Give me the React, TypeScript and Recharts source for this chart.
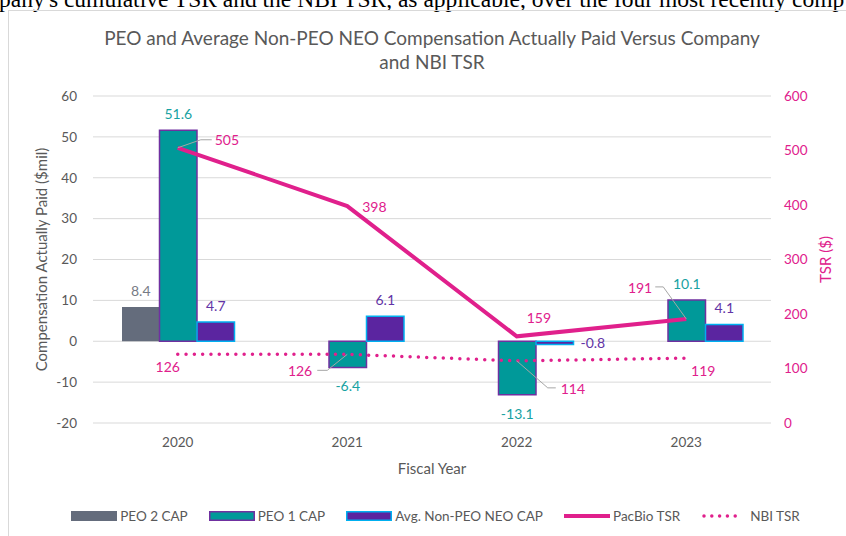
import React from 'react';
import { ComposedChart, Bar, Line, XAxis, YAxis, CartesianGrid, LabelList } from 'recharts';

const years = ['2020', '2021', '2022', '2023'];
const peo2Cap: (number | null)[] = [8.4, null, null, null];
const peo1Cap = [51.6, -6.4, -13.1, 10.1];
const avgNonPeoCap = [4.7, 6.1, -0.8, 4.1];
const pacBioTsr = [505, 398, 159, 191];
const nbiTsr = [126, 126, 114, 119];
const leftTicks = [-20, -10, 0, 10, 20, 30, 40, 50, 60];
const rightTicks = [0, 100, 200, 300, 400, 500, 600];

const data = years.map((year, i) => ({
  year,
  peo2: peo2Cap[i],
  peo1: peo1Cap[i],
  avg: avgNonPeoCap[i],
  pacbio: pacBioTsr[i],
  nbi: nbiTsr[i],
}));

const FONT = 'Lato, "Open Sans", sans-serif';
const AXIS = '#595959';
const GRAY = '#646C7C';
const TEAL = '#009999';
const PURPLE = '#5B25A0';
const PURPLE_EDGE = '#7030A0';
const BLUE_EDGE = '#00B0F0';
const PINK = '#E0208C';
const LEADER = '#A6A6A6';

const getBox = (p: any) => {
  const vb = p.viewBox || {};
  return {
    x: p.x ?? vb.x,
    y: p.y ?? vb.y,
    w: p.width ?? vb.width ?? 0,
    h: p.height ?? vb.height ?? 0,
  };
};

const makeBarLabel = (color: string) => (p: any) => {
  const v = p.value;
  if (v === null || v === undefined || v === '') return null;
  const { x, y, w, h } = getBox(p);
  const top = Math.min(y, y + h);
  const bottom = Math.max(y, y + h);
  let tx = x + w / 2;
  let ty: number;
  let anchor = 'middle';
  if (v >= 0) ty = top - 11;
  else if (Math.abs(v) < 2) {
    tx = x + w + 7;
    anchor = 'start';
    ty = (top + bottom) / 2 + 5;
  } else ty = bottom + 24;
  return (
    <text x={tx} y={ty} textAnchor={anchor} fill={color} fontSize={14} fontFamily={FONT}>
      {Number(v).toFixed(1)}
    </text>
  );
};

type Spec = { dx: number; dy: number; anchor: string; leader?: number[][] };
const pacSpecs: Spec[] = [
  { dx: 37, dy: -8, anchor: 'start', leader: [[0, 0], [23, -8], [34, -8]] },
  { dx: 15, dy: 1, anchor: 'start' },
  { dx: 10, dy: -18, anchor: 'start' },
  { dx: -34, dy: -31, anchor: 'end', leader: [[0, 0], [-23, -32], [-31, -32]] },
];
const nbiSpecs: Spec[] = [
  { dx: -10, dy: 13, anchor: 'middle' },
  { dx: -35, dy: 17, anchor: 'end', leader: [[0, 0], [-20, 16], [-30, 16]] },
  { dx: 44, dy: 28, anchor: 'start', leader: [[0, 0], [31, 27], [39, 27]] },
  { dx: 17, dy: 13, anchor: 'middle' },
];

const makeLineLabel = (specs: Spec[]) => (p: any) => {
  const { x, y } = getBox(p);
  const s = specs[p.index];
  if (!s || x == null || y == null) return null;
  return (
    <g>
      {s.leader && (
        <polyline
          points={s.leader.map(([a, b]) => `${x + a},${y + b}`).join(' ')}
          fill="none"
          stroke={LEADER}
          strokeWidth={1}
        />
      )}
      <text x={x + s.dx} y={y + s.dy + 5} textAnchor={s.anchor} fill={PINK} fontSize={14} fontFamily={FONT}>
        {p.value}
      </text>
    </g>
  );
};

const legendItems = [
  { name: 'PEO 2 CAP', kind: 'bar', fill: GRAY, edge: GRAY },
  { name: 'PEO 1 CAP', kind: 'bar', fill: TEAL, edge: PURPLE_EDGE },
  { name: 'Avg. Non-PEO NEO CAP', kind: 'bar', fill: PURPLE, edge: BLUE_EDGE },
  { name: 'PacBio TSR', kind: 'line' },
  { name: 'NBI TSR', kind: 'dots' },
];

function LegendRow() {
  return (
    <div
      style={{
        position: 'absolute',
        left: 0,
        top: 506,
        width: 871,
        display: 'flex',
        justifyContent: 'center',
        alignItems: 'center',
        gap: 21,
        fontFamily: FONT,
        fontSize: 13.5,
        color: AXIS,
        whiteSpace: 'nowrap',
      }}
    >
      {legendItems.map((it) => (
        <div key={it.name} style={{ display: 'flex', alignItems: 'center' }}>
          <svg width={46} height={20} style={{ marginRight: 3 }}>
            {it.kind === 'bar' && (
              <rect x={0.75} y={5.75} width={44.5} height={8.5} fill={it.fill} stroke={it.edge} strokeWidth={1.5} />
            )}
            {it.kind === 'line' && <line x1={0} y1={10} x2={46} y2={10} stroke={PINK} strokeWidth={4} />}
            {it.kind === 'dots' && (
              <line x1={3} y1={10} x2={42} y2={10} stroke={PINK} strokeWidth={3.5} strokeDasharray="0 7.8" strokeLinecap="round" />
            )}
          </svg>
          <span>{it.name}</span>
        </div>
      ))}
    </div>
  );
}

export default function App() {
  return (
    <div style={{ position: 'fixed', left: 0, top: 0, width: 846, height: 536, overflow: 'hidden', background: '#fff' }}>
      <svg style={{ position: 'absolute', left: 0, top: 0 }} width={846} height={20}>
        <text x={-1} y={7} fontFamily="'Liberation Serif', 'Times New Roman', serif" fontSize={23.5} fill="#000">
          pany's cumulative TSR and the NBI TSR, as applicable, over the four most recently comp
        </text>
      </svg>
      <div style={{ position: 'absolute', left: 8, top: 10, width: 1000, height: 1000, border: '1px solid #d9d9d9' }} />
      <div
        style={{
          position: 'absolute',
          left: 32,
          top: 26,
          width: 800,
          textAlign: 'center',
          fontFamily: FONT,
          fontSize: 19,
          lineHeight: '24px',
          color: AXIS,
          whiteSpace: 'nowrap',
        }}
      >
        PEO and Average Non-PEO NEO Compensation Actually Paid Versus Company
        <br />
        and NBI TSR
      </div>
      <div style={{ position: 'absolute', left: 0, top: 0 }}>
        <ComposedChart
          width={846}
          height={536}
          data={data}
          margin={{ top: 96, right: 0, bottom: 0, left: 0 }}
          barGap={0}
          barSize={37.5}
        >
          <CartesianGrid vertical={false} stroke="#d9d9d9" yAxisId="left" />
          <XAxis
            dataKey="year"
            height={113}
            axisLine={false}
            tickLine={false}
            tickMargin={8}
            interval={0}
            tick={{ fill: AXIS, fontSize: 13.5, fontFamily: FONT }}
            label={{ value: 'Fiscal Year', position: 'insideTop', offset: 40, fill: AXIS, fontSize: 15, fontFamily: FONT }}
          />
          <YAxis
            yAxisId="left"
            domain={[-20, 60]}
            ticks={leftTicks}
            width={93}
            axisLine={false}
            tickLine={false}
            tickMargin={10}
            tick={{ fill: AXIS, fontSize: 13.5, fontFamily: FONT }}
            label={{
              value: 'Compensation Actually Paid ($mil)',
              angle: -90,
              position: 'insideLeft',
              offset: 42,
              fill: AXIS,
              fontSize: 15,
              fontFamily: FONT,
              style: { textAnchor: 'middle' },
            }}
          />
          <YAxis
            yAxisId="right"
            orientation="right"
            domain={[0, 600]}
            ticks={rightTicks}
            width={75}
            axisLine={false}
            tickLine={false}
            tickMargin={7}
            tick={{ fill: PINK, fontSize: 13.5, fontFamily: FONT }}
            label={{
              value: 'TSR ($)',
              angle: -90,
              position: 'insideRight',
              offset: 20,
              fill: PINK,
              fontSize: 15,
              fontFamily: FONT,
              style: { textAnchor: 'middle' },
            }}
          />
          <Bar yAxisId="left" dataKey="peo2" name="PEO 2 CAP" fill={GRAY} isAnimationActive={false}>
            <LabelList dataKey="peo2" content={makeBarLabel('#767B85')} />
          </Bar>
          <Bar yAxisId="left" dataKey="peo1" name="PEO 1 CAP" fill={TEAL} stroke={PURPLE_EDGE} strokeWidth={1.5} isAnimationActive={false}>
            <LabelList dataKey="peo1" content={makeBarLabel('#17A2A2')} />
          </Bar>
          <Bar yAxisId="left" dataKey="avg" name="Avg. Non-PEO NEO CAP" fill={PURPLE} stroke={BLUE_EDGE} strokeWidth={1.5} isAnimationActive={false}>
            <LabelList dataKey="avg" content={makeBarLabel('#6234A6')} />
          </Bar>
          <Line
            yAxisId="right"
            dataKey="pacbio"
            name="PacBio TSR"
            stroke={PINK}
            strokeWidth={4}
            dot={false}
            activeDot={false}
            isAnimationActive={false}
          >
            <LabelList dataKey="pacbio" content={makeLineLabel(pacSpecs)} />
          </Line>
          <Line
            yAxisId="right"
            dataKey="nbi"
            name="NBI TSR"
            stroke={PINK}
            strokeWidth={3.5}
            strokeDasharray="0 8.3"
            strokeLinecap="round"
            dot={false}
            activeDot={false}
            isAnimationActive={false}
          >
            <LabelList dataKey="nbi" content={makeLineLabel(nbiSpecs)} />
          </Line>
        </ComposedChart>
      </div>
      <LegendRow />
    </div>
  );
}
